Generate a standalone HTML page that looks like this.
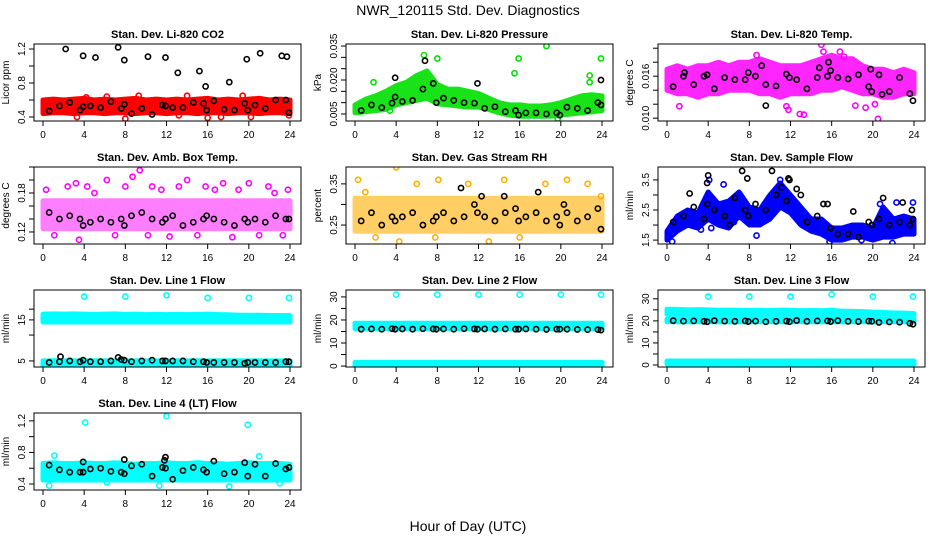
<!DOCTYPE html>
<html><head><meta charset="utf-8"><style>
html,body{margin:0;padding:0;background:#fff;}
svg text{font-family:"Liberation Sans",sans-serif;}
</style></head><body>
<svg id="chart" width="936" height="540" xmlns="http://www.w3.org/2000/svg">
<text x="468" y="15" font-size="14" text-anchor="middle">NWR_120115  Std. Dev. Diagnostics</text>
<text x="468" y="531" font-size="14" text-anchor="middle">Hour of Day (UTC)</text>
</svg>
<script>
const blackHours=[0.6,1.6,2.6,3.6,3.9,4.6,5.6,6.6,7.6,7.9,8.6,9.6,10.6,11.6,11.9,12.6,13.6,14.6,15.6,15.9,16.6,17.6,18.6,19.6,19.9,20.6,21.6,22.6,23.6,23.9];
const bandHours=[0,1,2,3,4,5,6,7,8,9,10,11,12,13,14,15,16,17,18,19,20,21,22,23,24];
const xTicks=[0,4,8,12,16,20,24];
const flat=(v)=>bandHours.map(()=>v);

const titles=["Stan. Dev. Li-820 CO2","Stan. Dev. Li-820 Pressure","Stan. Dev. Li-820 Temp.","Stan. Dev. Amb. Box Temp.","Stan. Dev. Gas Stream RH","Stan. Dev. Sample Flow","Stan. Dev. Line 1 Flow","Stan. Dev. Line 2 Flow","Stan. Dev. Line 3 Flow","Stan. Dev. Line 4 (LT) Flow"];
const yTitles=["Licor ppm","kPa","degrees C","degrees C","percent","ml/min","ml/min","ml/min","ml/min","ml/min"];
const yMins=[0.353,0.0019,0.0096,0.1015,0.204,1.37,4.25,-0.4,-0.9,0.324];
const yMaxs=[1.259,0.0359,0.0206,0.22,0.391,3.93,33.4,33,34,1.30];
const yLog=[false,false,false,false,false,false,true,false,false,false];
const yTicks=[[0.4,0.6,0.8,1.0,1.2],[0.005,0.010,0.015,0.020,0.025,0.030,0.035],[0.010,0.012,0.014,0.016,0.018,0.020],[0.12,0.14,0.16,0.18,0.20,0.22],[0.25,0.30,0.35],[1.5,2.0,2.5,3.0,3.5],[5,10,15,20],[0,5,10,15,20,25,30],[0,5,10,15,20,25,30],[0.4,0.6,0.8,1.0,1.2]];
const yTickLabels=[["0.4","","0.8","","1.2"],["0.005","","","0.020","","","0.035"],["0.010","","","0.016","",""],["0.12","","","0.18","",""],["0.25","","0.35"],["1.5","","2.5","","3.5"],["5","","15",""],["0","","10","","20","","30"],["0","","10","","20","","30"],["0.4","","0.8","","1.2"]];
const colors=["#ff0000","#00e000","#ff00ff","#ff00ff","#ffb000","#0000ff","#00ffff","#00ffff","#00ffff","#00ffff"];
const bandOpacity=[1,0.9,0.85,0.5,0.6,1,1,1,1,1];

const bandsCO2=[[[0.44,0.45,0.45,0.44,0.45,0.45,0.44,0.45,0.45,0.44,0.45,0.45,0.44,0.45,0.45,0.44,0.45,0.45,0.44,0.45,0.45,0.44,0.45,0.45,0.44],[0.60,0.61,0.60,0.61,0.62,0.60,0.61,0.60,0.61,0.62,0.60,0.61,0.60,0.61,0.60,0.61,0.62,0.60,0.61,0.60,0.61,0.62,0.60,0.61,0.60]]];
const bandsPress=[[[0.0055,0.006,0.0065,0.007,0.009,0.010,0.011,0.012,0.0095,0.009,0.0085,0.008,0.008,0.007,0.0055,0.0045,0.004,0.004,0.004,0.004,0.0045,0.005,0.0055,0.006,0.0065],[0.009,0.0115,0.013,0.015,0.0175,0.019,0.022,0.024,0.018,0.016,0.016,0.015,0.014,0.012,0.010,0.009,0.009,0.0085,0.0085,0.009,0.010,0.0115,0.013,0.0135,0.013]]];
const bandsTemp=[[[0.014,0.0135,0.0135,0.013,0.0135,0.0135,0.014,0.014,0.014,0.0135,0.0135,0.013,0.0135,0.0135,0.0135,0.014,0.014,0.0145,0.014,0.0135,0.0135,0.013,0.013,0.0135,0.0135],[0.017,0.0175,0.017,0.0175,0.0175,0.018,0.0175,0.018,0.018,0.0185,0.018,0.0175,0.0175,0.0175,0.018,0.0185,0.019,0.0185,0.0185,0.0175,0.017,0.017,0.0165,0.017,0.0165]]];
const bandsAmb=[[flat(0.125),flat(0.168)]];
const bandsRH=[[flat(0.235),flat(0.315)]];
const bandsFlow=[[[1.5,1.8,2.0,1.9,2.2,2.0,1.9,2.3,2.0,2.0,2.2,2.6,2.4,2.0,1.8,1.7,1.5,1.5,1.6,1.6,1.5,1.6,1.6,1.7,1.7],[1.8,2.3,2.5,2.4,3.1,2.7,2.8,3.1,2.6,2.5,3.0,3.4,3.0,2.6,2.2,2.2,1.9,1.9,2.0,2.0,1.9,2.6,2.2,2.3,2.2]]];
const bandsL1=[[flat(14.2),[17.5,17.6,17.5,17.6,17.5,17.4,17.5,17.6,17.4,17.5,17.3,17.4,17.3,17.4,17.3,17.4,17.5,17.3,17.2,17.0,17.0,17.0,16.9,16.9,16.8]],[flat(4.35),flat(5.0)]];
const bandsL2=[[flat(16.2),flat(18.6)],[flat(0.0),flat(1.6)]];
const bandsL3=[[flat(23.0),[25.3,25.2,25.0,25.1,25.0,24.8,24.9,24.8,24.7,24.8,24.7,24.9,24.8,24.6,24.7,24.6,24.8,24.4,24.3,24.2,24.0,23.8,23.6,23.5,23.3]],[flat(19.6),flat(20.8)],[flat(0.4),flat(1.8)]];
const bandsL4=[[flat(0.45),[0.66,0.67,0.66,0.66,0.67,0.66,0.66,0.67,0.66,0.65,0.66,0.66,0.67,0.66,0.66,0.67,0.66,0.66,0.65,0.66,0.67,0.66,0.66,0.66,0.65]]];
const allBands=[bandsCO2,bandsPress,bandsTemp,bandsAmb,bandsRH,bandsFlow,bandsL1,bandsL2,bandsL3,bandsL4];

const blackCO2=[0.47,0.53,0.57,0.48,0.52,0.53,0.51,0.58,0.50,0.55,0.44,0.50,0.43,0.54,0.53,0.51,0.51,0.57,0.56,0.48,0.59,0.49,0.48,0.56,0.48,0.54,0.50,0.60,0.60,0.45];
const blackPress=[0.0065,0.0090,0.0078,0.0098,0.0125,0.0105,0.0110,0.016,0.0185,0.010,0.0120,0.0110,0.0100,0.0098,0.0185,0.0075,0.0082,0.0060,0.0065,0.0045,0.0055,0.0055,0.0050,0.0055,0.0045,0.0080,0.0075,0.0065,0.0100,0.0090];
const blackTemp=[0.0145,0.016,0.0148,0.016,0.0162,0.0142,0.0158,0.0155,0.0155,0.0165,0.016,0.0148,0.0146,0.0163,0.0158,0.0155,0.0142,0.0158,0.016,0.0168,0.0158,0.0156,0.0162,0.0145,0.0138,0.0162,0.0138,0.0158,0.0135,0.0125];
const blackAmb=[0.15,0.14,0.145,0.14,0.13,0.135,0.14,0.135,0.14,0.13,0.145,0.15,0.14,0.135,0.14,0.145,0.13,0.135,0.14,0.145,0.14,0.135,0.13,0.14,0.135,0.14,0.135,0.145,0.14,0.14];
const blackRH=[0.26,0.28,0.25,0.27,0.26,0.27,0.28,0.25,0.26,0.27,0.28,0.26,0.27,0.30,0.28,0.27,0.26,0.28,0.29,0.26,0.27,0.28,0.26,0.27,0.25,0.28,0.26,0.27,0.29,0.24];
const blackFlow=[2.1,2.3,2.6,2.2,2.7,2.5,2.3,2.9,2.5,2.3,2.7,2.5,3.0,2.8,3.5,3.2,2.1,2.3,2.7,1.9,1.7,1.7,1.6,2.1,2.0,2.2,2.0,2.1,2.0,2.2];
const blackL1=[4.8,4.9,5.0,4.9,5.1,4.9,4.9,5.0,5.2,5.1,4.9,5.0,5.1,5.0,5.0,5.0,5.0,4.9,4.9,4.8,4.8,4.8,4.8,4.7,4.8,4.8,4.8,4.8,4.9,4.9];
const blackL2=[16.0,16.1,16.0,16.2,16.0,16.1,16.0,16.2,16.1,16.0,16.1,16.0,16.2,16.1,16.0,16.1,16.0,16.1,16.0,16.0,16.1,16.0,15.9,16.0,16.0,16.0,15.9,15.8,15.8,15.6];
const blackL3=[20.1,19.9,20.0,19.8,19.6,20.1,19.9,19.8,20.0,19.7,19.9,19.6,19.8,19.9,19.6,20.2,19.8,20.0,20.0,19.7,20.1,19.8,19.7,19.9,19.8,19.3,19.5,19.4,18.9,18.5];
const blackL4=[0.64,0.58,0.55,0.55,0.55,0.59,0.60,0.56,0.55,0.53,0.63,0.65,0.50,0.61,0.60,0.46,0.57,0.61,0.58,0.55,0.69,0.53,0.55,0.67,0.50,0.65,0.50,0.66,0.59,0.61];
const allBlack=[blackCO2,blackPress,blackTemp,blackAmb,blackRH,blackFlow,blackL1,blackL2,blackL3,blackL4];

const blackExtraX=[[2.2,3.9,5.1,7.3,7.9,10.2,11.9,13.1,15.2,15.8,18.1,19.8,21.1,23.2,23.7],[3.9,6.8,23.9],[1.7,9.2,9.6,14.8,15.7,19.8,20.9],[],[10.3,12.3,14.5,17.8,20.3],[2.2,3.9,4.0,6.1,7.3,7.8,10.2,11.1,11.8,13.0,15.2,18.1,21.0,22.9,23.8],[1.7,7.3],[],[],[3.9,11.9,11.8,7.9]];
const blackExtraY=[[1.20,1.12,1.10,1.22,1.07,1.11,1.10,0.92,0.94,0.76,0.81,1.08,1.15,1.12,1.11],[0.021,0.0285,0.020],[0.0165,0.0175,0.0118,0.0172,0.018,0.017,0.0134],[],[0.34,0.32,0.32,0.33,0.30],[3.05,3.4,3.65,2.0,3.8,3.55,3.8,3.25,3.55,3.0,2.7,2.45,2.9,2.75,2.5],[5.6,5.5],[],[],[0.68,0.74,0.70,0.71]];
const colorExtraX=[[3.3,4.2,6.2,8.0,9.3,13.2,14.0,16.0,17.3,19.4,20.2,23.9],[1.8,3.4,6.7,8.0,15.5,15.9,18.6,22.8,22.8,23.9,19.7],[1.2,8.7,11.6,11.8,12.9,13.3,15.0,15.2,16.8,17.2,18.3,19.3,20.5,20.2],[0.3,1.1,2.4,3.2,3.5,4.3,5.0,6.2,7.0,8.0,8.7,9.4,10.2,10.6,11.5,12.3,13.2,14.0,15.0,15.8,16.7,17.5,18.4,19.0,20.0,21.0,21.9,22.5,23.3,23.8],[0.3,1.0,4.0,4.3,6.0,7.8,8.1,11.0,14.5,16.0,18.5,20.6,22.6,23.9,2.0,13.0],[0.5,3.3,4.1,4.3,5.5,6.5,8.7,11.0,15.8,18.9,21.9,22.3,23.9,20.7],[4.0,8.0,12.0,16.0,20.0,23.9],[4.0,8.0,12.0,16.0,20.0,23.9],[4.0,8.0,12.0,16.0,20.0,23.9],[4.1,12.0,19.9,0.6,11.3,18.1,23.0,6.2,1.1,21.0]];
const colorExtraY=[[0.40,0.63,0.64,0.38,0.65,0.42,0.65,0.39,0.40,0.65,0.40,0.42],[0.019,0.0065,0.031,0.0295,0.023,0.0295,0.035,0.022,0.019,0.0295,0.003],[0.0117,0.019,0.0117,0.0112,0.0106,0.0105,0.0205,0.0195,0.0195,0.0188,0.0118,0.0115,0.0099,0.012],[0.185,0.115,0.19,0.195,0.108,0.19,0.18,0.20,0.115,0.19,0.205,0.215,0.115,0.19,0.185,0.113,0.19,0.20,0.115,0.19,0.185,0.195,0.112,0.185,0.195,0.115,0.19,0.18,0.115,0.185],[0.36,0.33,0.39,0.21,0.35,0.22,0.36,0.35,0.36,0.22,0.35,0.36,0.35,0.32,0.22,0.21],[1.45,1.85,3.5,1.9,3.35,2.1,1.65,3.5,1.45,1.5,1.4,2.75,2.75,2.7],[28,28,29,27,27,27],[31,31,31,31,31,31],[31,31,31,32,31,31],[1.18,1.26,1.15,0.38,0.38,0.37,0.41,0.42,0.76,0.75]];

const NS="http://www.w3.org/2000/svg";
const svg=document.getElementById('chart');
function mk(tag,attrs,parent){const e=document.createElementNS(NS,tag);for(const k in attrs)e.setAttribute(k,attrs[k]);(parent||svg).appendChild(e);return e;}
const colLeft=[34,346,658], rowTop=[44,167,290,413], W=267, H=77;

titles.forEach((t,i)=>{
  const L=colLeft[i%3], T=rowTop[Math.floor(i/3)];
  const g=mk('g',{});
  
  
  const xs=h=>L+9+h*(247/24);
  const lg=yLog[i];
  const tf=v=>lg?Math.log10(v):v;
  const ys=v=>T+H-(tf(v)-tf(yMins[i]))/(tf(yMaxs[i])-tf(yMins[i]))*H;
  const clipId='clip'+i;
  const cp=mk('clipPath',{id:clipId},g);mk('rect',{x:L,y:T,width:W,height:H},cp);
  const pg=mk('g',{'clip-path':'url(#'+clipId+')'},g);
  const col=colors[i];
  allBands[i].forEach((b)=>{
    let pts=bandHours.map((h,k)=>xs(h)+','+ys(b[1][k]));
    pts=pts.concat(bandHours.slice().reverse().map((h,k)=>xs(h)+','+ys(b[0][bandHours.length-1-k])));
    const p=mk('polygon',{points:pts.join(' '),fill:col,stroke:col,'stroke-width':5,'stroke-linejoin':'round',opacity:bandOpacity[i]},pg);
    
    
  });
  colorExtraX[i].forEach((x,k)=>{
    const c=mk('circle',{cx:xs(x),cy:ys(colorExtraY[i][k]),r:2.6,fill:'none',stroke:col,'stroke-width':1.6},pg);
    
    
  });
  allBlack[i].forEach((v,k)=>{
    const c=mk('circle',{cx:xs(blackHours[k]),cy:ys(v),r:2.6,fill:'none',stroke:'#000','stroke-width':1.6},pg);
    
    
  });
  blackExtraX[i].forEach((x,k)=>{
    const c=mk('circle',{cx:xs(x),cy:ys(blackExtraY[i][k]),r:2.6,fill:'none',stroke:'#000','stroke-width':1.6},pg);
    
    
  });
  const box=mk('rect',{x:L,y:T,width:W,height:H,fill:'none',stroke:'#000','stroke-width':1},g);
  
  
  const tt=mk('text',{x:L+W/2,y:T-6,'font-size':11,'font-weight':'bold','text-anchor':'middle'},g);
  tt.textContent=t;
  
  
  const yt=mk('text',{x:L-25,y:T+H/2,'font-size':10,'text-anchor':'middle',transform:'rotate(-90 '+(L-25)+' '+(T+H/2)+')'},g);
  yt.textContent=yTitles[i];
  
  
  mk('line',{x1:xs(0),x2:xs(24),y1:T+H,y2:T+H,stroke:'#000'},g);
  xTicks.forEach(h=>{
    mk('line',{x1:xs(h),x2:xs(h),y1:T+H,y2:T+H+5,stroke:'#000'},g);
    const tx=mk('text',{x:xs(h),y:T+H+17,'font-size':10,'text-anchor':'middle'},g);
    tx.textContent=h;
    
    
  });
  const tk=yTicks[i];
  mk('line',{x1:L,x2:L,y1:ys(tk[0]),y2:ys(tk[tk.length-1]),stroke:'#000'},g);
  tk.forEach((v,k)=>{
    const y=ys(v);
    mk('line',{x1:L-5,x2:L,y1:y,y2:y,stroke:'#000'},g);
    const lab=yTickLabels[i][k];
    if(lab){
      const tx=mk('text',{x:L-9,y:y,'font-size':10,'text-anchor':'middle',transform:'rotate(-90 '+(L-9)+' '+y+')'},g);
      tx.textContent=lab;
      
      
    }
  });
});
</script>
</body></html>
